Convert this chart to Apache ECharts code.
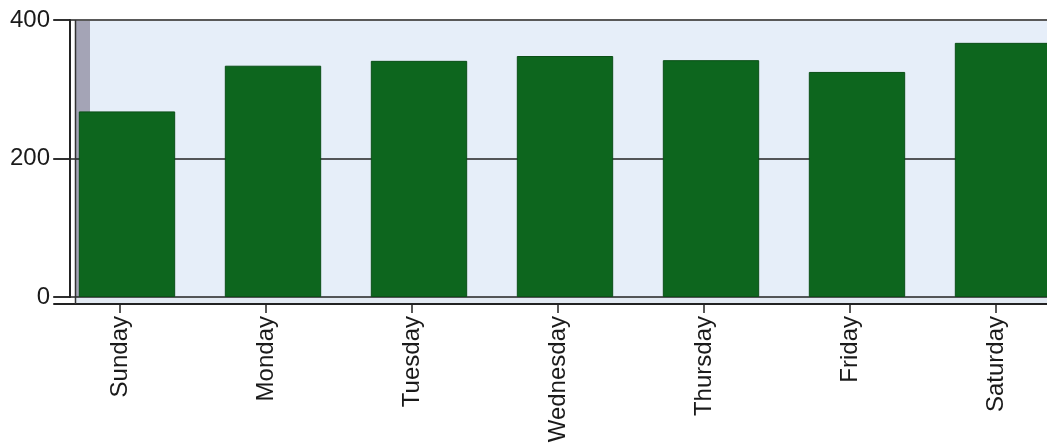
<!DOCTYPE html>
<html>
<head>
<meta charset="utf-8">
<script src="https://cdn.jsdelivr.net/npm/echarts@6/dist/echarts.min.js"></script>
<style>
html,body{margin:0;padding:0;background:#fff;}
#chart{width:1047px;height:448px;}
</style>
</head>
<body>
<div id="chart"></div>
<script>
var categories = ['Sunday','Monday','Tuesday','Wednesday','Thursday','Friday','Saturday'];
var values = [268, 334, 341, 348, 342, 325, 367];
var yTicks = [0, 200, 400];

var FONT = 'Liberation Sans, Arial, sans-serif';
var chart = echarts.init(document.getElementById('chart'));
var option = {
  animation: false,
  backgroundColor: '#ffffff',
  grid: [
    { left: 54, width: 1022, top: 20, height: 277, outerBoundsMode: 'none', containLabel: false },
    { left: 47, width: 1022, top: 20, height: 277, outerBoundsMode: 'none', containLabel: false }
  ],
  graphic: [
    { type: 'rect', z: -10, shape: { x: 90, y: 21, width: 960, height: 276 }, style: { fill: '#e6eef9' } },
    { type: 'rect', z: -10, shape: { x: 76, y: 297, width: 974, height: 6 }, style: { fill: '#e2e9f2' } },
    { type: 'rect', z: -9, shape: { x: 76, y: 21, width: 14, height: 276 }, style: { fill: '#a4a4b6' } },
    { type: 'line', z: 5, shape: { x1: 75.5, y1: 20, x2: 75.5, y2: 304 }, style: { stroke: '#333', lineWidth: 1.5 } }
  ],
  xAxis: [
    {
      type: 'category',
      gridIndex: 0,
      data: categories,
      offset: 7,
      axisLine: { onZero: false, lineStyle: { color: '#222', width: 2 } },
      axisTick: { show: false },
      axisLabel: { show: false }
    },
    {
      type: 'category',
      gridIndex: 1,
      data: categories,
      offset: 7,
      axisLine: { show: false, onZero: false },
      axisTick: { show: true, alignWithLabel: true, length: 9, lineStyle: { color: '#222', width: 1.5 } },
      axisLabel: { rotate: 90, fontSize: 24, fontFamily: FONT, color: '#1a1a1a', margin: 12 }
    }
  ],
  yAxis: [
    {
      type: 'value',
      gridIndex: 0,
      min: yTicks[0],
      max: yTicks[yTicks.length - 1],
      interval: yTicks[1] - yTicks[0],
      offset: -16,
      axisLine: { show: true, lineStyle: { color: '#222', width: 2 } },
      axisTick: { show: true, length: 17, lineStyle: { color: '#222', width: 1.5 } },
      axisLabel: { fontSize: 24, fontFamily: FONT, color: '#1a1a1a', margin: 20 },
      splitLine: { show: true, lineStyle: { color: '#222', width: 1.5 } }
    },
    {
      type: 'value',
      gridIndex: 1,
      min: yTicks[0],
      max: yTicks[yTicks.length - 1],
      interval: yTicks[1] - yTicks[0],
      show: false
    }
  ],
  series: [{
    type: 'bar',
    xAxisIndex: 0,
    yAxisIndex: 0,
    data: values,
    barCategoryGap: '34%',
    itemStyle: { color: '#0d661e', borderColor: '#0a4f17', borderWidth: 1 },
    z: 3
  }]
};
chart.setOption(option);
</script>
</body>
</html>
